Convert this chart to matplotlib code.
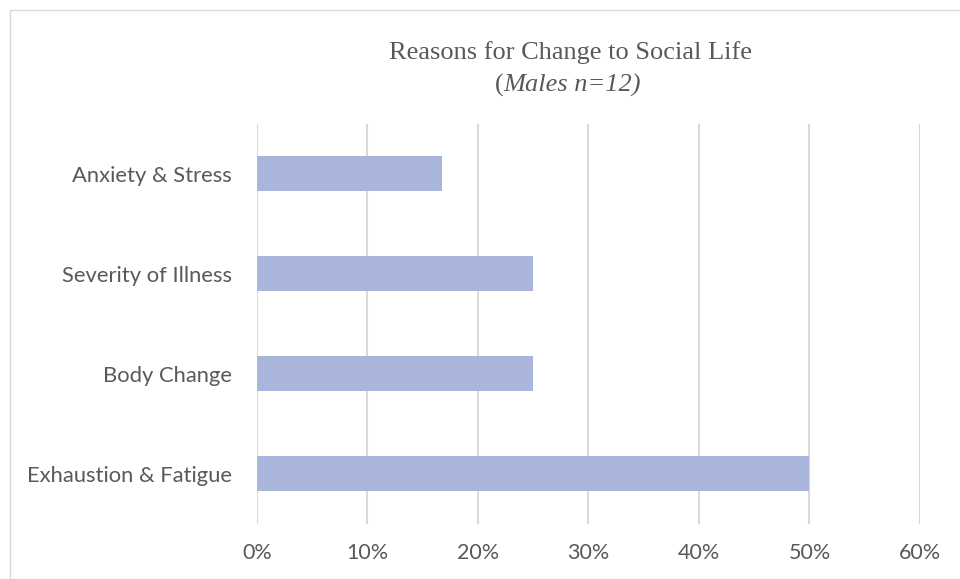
import numpy as np
import matplotlib.pyplot as plt
from matplotlib.patches import Rectangle

categories = ['Exhaustion & Fatigue', 'Body Change', 'Severity of Illness', 'Anxiety & Stress']
values = [50.0, 25.0, 25.0, 16.7]
xticks = [0, 10, 20, 30, 40, 50, 60]

text_color = '#595959'
bar_color = '#A9B5DA'
grid_color = '#D9D9D9'

fig = plt.figure(figsize=(9.6, 5.79), dpi=100)
ax = fig.add_axes([0.2677, 0.095, 0.6906, 0.691])

y = np.arange(len(categories))
ax.barh(y, values, height=0.35, color=bar_color, zorder=3)

ax.set_xlim(0, 60)
ax.set_ylim(-0.5, len(categories) - 0.5)
ax.set_xticks(xticks)
ax.set_xticklabels([f'{t}%' for t in xticks], fontsize=15.5, color=text_color, family='Lato')
ax.set_yticks(y)
ax.set_yticklabels(categories, fontsize=15.8, color=text_color, family='Lato')
ax.tick_params(length=0, pad=14, axis='x')
ax.tick_params(length=0, pad=18, axis='y')
ax.grid(axis='x', color=grid_color, linewidth=1.5, zorder=0)
for s in ax.spines.values():
    s.set_visible(False)

fig.text(0.594, 0.91, 'Reasons for Change to Social Life', ha='center', va='center',
         fontsize=19, color=text_color, family='Liberation Serif')
fig.text(0.5245, 0.853, '(', ha='right', va='center', fontsize=19, color=text_color,
         family='Liberation Serif')
fig.text(0.5245, 0.853, 'Males n=12)', ha='left', va='center', fontsize=19, color=text_color,
         family='Liberation Serif', style='italic')

fig.add_artist(Rectangle((10 / 960, 0), 1.0, 1 - 10 / 579, transform=fig.transFigure,
                         fill=False, edgecolor=grid_color, linewidth=1))

fig.savefig('out.png', dpi=100)
